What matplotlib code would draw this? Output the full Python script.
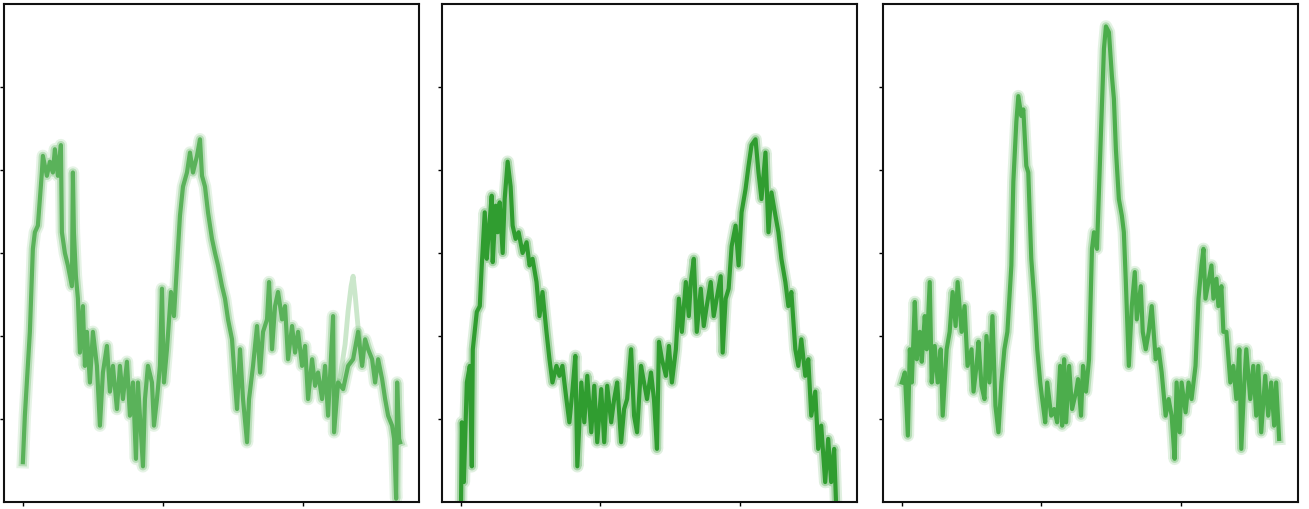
import matplotlib
matplotlib.use("Agg")
import matplotlib.pyplot as plt

# ---- data (x in sample units, y in signal units) ----
p1_x = [0, 2, 7, 10, 12, 15, 19, 20, 24, 27, 30, 32, 35, 38, 39, 42, 45, 49, 50, 51,
        53, 55, 57, 60, 62, 64, 67, 70, 74, 77, 80, 84, 87, 90, 94, 97, 100, 104, 107, 110,
        113, 115, 120, 122, 125, 129, 131, 134, 137, 139, 141, 144, 148, 151, 154, 157, 160, 164, 167, 170,
        174, 177, 179, 182, 185, 189, 192, 195, 199, 202, 205, 209, 212, 214, 217, 220, 224, 226, 230, 234,
        237, 240, 244, 246, 249, 252, 255, 259, 262, 265, 269, 272, 275, 279, 282, 285, 289, 292, 295, 299,
        302, 305, 310, 311, 315, 320, 325, 330, 335, 339, 342, 345, 349, 352, 355, 359, 362, 365, 369, 371,
        373, 374, 376, 377]
p1_y = [0.48, 1.04, 2.05, 3.05, 3.25, 3.33, 3.97, 4.17, 3.93, 4.10, 3.97, 4.25, 3.93, 4.30, 3.25, 3.00, 2.85, 2.60, 3.97, 3.25,
        2.72, 2.45, 1.80, 2.36, 1.64, 2.05, 1.44, 2.05, 1.64, 0.92, 1.56, 1.88, 1.33, 1.64, 1.12, 1.64, 1.24, 1.69, 1.04, 1.44,
        0.52, 1.44, 0.43, 1.24, 1.64, 1.44, 0.92, 1.24, 1.64, 2.57, 1.44, 1.84, 2.53, 2.24, 2.85, 3.45, 3.80, 3.97, 4.21, 3.97,
        4.17, 4.37, 3.93, 3.80, 3.49, 3.17, 3.00, 2.85, 2.60, 2.45, 2.20, 1.96, 1.44, 1.12, 1.84, 1.24, 0.72, 1.24, 1.64, 2.12,
        1.56, 2.05, 2.20, 2.65, 1.84, 2.36, 2.53, 2.20, 2.36, 1.72, 2.12, 1.80, 2.05, 1.64, 1.88, 1.24, 1.72, 1.40, 1.56, 1.24,
        1.64, 1.04, 2.24, 0.84, 1.44, 1.36, 1.64, 1.72, 2.05, 1.64, 1.96, 1.84, 1.72, 1.44, 1.72, 1.48, 1.24, 1.04, 0.92, 0.76,
        0.04, 1.44, 0.76, 0.72]
# faint secondary run visible in the first panel
p1_alt_x = [312, 317, 322, 325, 328, 330, 332, 335, 339]
p1_alt_y = [1.30, 1.50, 1.90, 2.30, 2.60, 2.72, 2.50, 2.10, 1.70]

p2_x = [0, 1, 3, 6, 9, 11, 12, 16, 19, 21, 24, 26, 28, 31, 32, 35, 37, 39, 42, 44,
        47, 50, 52, 55, 58, 62, 66, 69, 72, 76, 79, 82, 86, 89, 92, 96, 99, 102, 106, 109,
        112, 115, 117, 121, 124, 127, 131, 134, 137, 141, 144, 147, 151, 154, 157, 161, 164, 167, 171, 174,
        177, 181, 184, 187, 191, 194, 197, 199, 202, 206, 209, 212, 216, 219, 222, 226, 229, 231, 234, 237,
        241, 244, 247, 251, 254, 257, 261, 263, 266, 269, 272, 276, 279, 282, 286, 289, 292, 296, 299, 302,
        306, 309, 312, 316, 319, 322, 326, 329, 332, 336, 339, 342, 346, 349, 352, 356, 359, 362, 366, 369,
        372, 375, 377, 379]
p2_y = [-0.20, 0.96, 0.24, 1.44, 1.64, 0.43, 1.84, 2.29, 2.36, 2.85, 3.49, 2.93, 3.25, 3.69, 2.89, 3.57, 3.25, 3.61, 3.00, 3.65,
        4.10, 3.80, 3.33, 3.17, 3.25, 3.00, 3.13, 2.85, 2.93, 2.65, 2.24, 2.53, 2.05, 1.72, 1.44, 1.64, 1.52, 1.64, 1.24, 0.96,
        1.33, 1.76, 0.43, 1.44, 0.96, 1.52, 0.84, 1.40, 0.72, 1.36, 0.72, 1.40, 0.96, 1.24, 1.44, 0.72, 1.12, 1.24, 1.84, 1.04,
        0.84, 1.64, 1.44, 1.24, 1.56, 1.24, 0.64, 1.93, 1.72, 1.52, 1.88, 1.44, 1.84, 2.45, 2.05, 2.65, 2.24, 2.65, 2.93, 2.05,
        2.57, 2.12, 2.36, 2.65, 2.24, 2.45, 2.72, 1.80, 2.45, 2.57, 3.08, 3.33, 2.85, 3.49, 3.77, 4.05, 4.30, 4.37, 3.97, 3.65,
        4.21, 3.25, 3.73, 3.45, 3.25, 2.93, 2.65, 2.36, 2.53, 1.84, 1.64, 1.96, 1.52, 1.72, 1.04, 1.33, 0.64, 0.92, 0.24, 0.76,
        0.24, 0.64, -0.05, -0.10]

p3_x = [0, 3, 6, 8, 10, 13, 15, 18, 20, 23, 25, 28, 30, 33, 36, 39, 41, 45, 48, 51,
        54, 56, 60, 63, 66, 70, 72, 75, 77, 80, 83, 85, 88, 91, 94, 97, 100, 103, 106, 110,
        112, 115, 117, 120, 122, 125, 127, 130, 133, 136, 139, 141, 144, 146, 150, 153, 156, 159, 161, 163,
        165, 168, 171, 175, 177, 180, 182, 185, 188, 191, 193, 196, 200, 203, 205, 208, 211, 213, 215, 218,
        221, 223, 225, 228, 231, 234, 236, 240, 242, 245, 248, 251, 255, 258, 261, 265, 268, 271, 274, 276,
        279, 281, 285, 288, 291, 295, 298, 301, 303, 305, 308, 311, 313, 316, 318, 321, 323, 326, 330, 333,
        336, 339, 341, 344, 346, 350, 353, 356, 358, 361, 365, 368, 371, 374, 376, 379]
p3_y = [1.44, 1.56, 0.80, 1.84, 1.44, 2.41, 1.72, 2.05, 1.69, 2.24, 1.84, 2.65, 1.44, 1.88, 1.44, 1.84, 1.04, 1.84, 2.05, 2.53,
        2.12, 2.65, 2.05, 2.36, 1.64, 1.84, 1.33, 1.64, 1.93, 1.40, 1.24, 2.00, 1.44, 2.24, 1.16, 0.84, 1.44, 1.84, 2.05, 2.85,
        3.86, 4.58, 4.89, 4.65, 4.73, 4.05, 3.97, 2.93, 2.45, 1.84, 1.44, 1.24, 0.96, 1.44, 1.04, 1.12, 0.96, 1.64, 0.92, 1.72,
        0.96, 1.64, 1.12, 1.33, 1.48, 1.04, 1.64, 1.33, 1.72, 3.05, 3.25, 3.05, 4.45, 5.46, 5.73, 5.66, 5.13, 4.86, 4.25, 3.65,
        3.45, 3.25, 2.65, 1.64, 2.36, 2.77, 2.20, 2.60, 2.05, 1.84, 2.05, 2.36, 1.72, 1.84, 1.56, 1.04, 1.24, 1.04, 0.52, 1.44,
        0.84, 1.44, 1.08, 1.44, 1.24, 1.64, 2.45, 2.85, 3.05, 2.45, 2.65, 2.85, 2.45, 2.69, 2.36, 2.60, 2.05, 2.05, 1.44, 1.64,
        1.24, 1.84, 0.64, 1.44, 1.84, 1.24, 1.64, 1.04, 1.64, 0.84, 1.52, 1.04, 1.44, 0.92, 1.44, 0.76]

panels = [(p1_x, p1_y), (p2_x, p2_y), (p3_x, p3_y)]
colors = ["#55b055", "#2a9a2a", "#47ab47"]
x_ticks = [0, 140, 280]
y_ticks = [1, 2, 3, 4, 5]

W, H = 1309, 510
fig = plt.figure(figsize=(W / 100, H / 100), dpi=100)
lefts = [4, 442, 883]
axes = []
for (xs, ys), col, lx in zip(panels, colors, lefts):
    ax = fig.add_axes([lx / W, 7 / H, 415 / W, 498 / H])
    ax.plot(xs, ys, color=col, lw=9, alpha=0.15)
    ax.plot(xs, ys, color=col, lw=6, alpha=0.3)
    ax.plot(xs, ys, color=col, lw=3, alpha=0.95)
    ax.set_ylim(0, 6.0)
    ax.set_xticks(x_ticks)
    ax.set_yticks(y_ticks)
    ax.tick_params(labelleft=False, labelbottom=False, length=3, width=1, direction="out")
    for s in ax.spines.values():
        s.set_linewidth(1.5)
        s.set_color("#111111")
    axes.append(ax)

axes[0].plot(p1_alt_x, p1_alt_y, color=colors[0], lw=3.5, alpha=0.3)
axes[0].set_xlim(-0.05 * 377, 1.05 * 377)

fig.savefig("out.png", dpi=100)
